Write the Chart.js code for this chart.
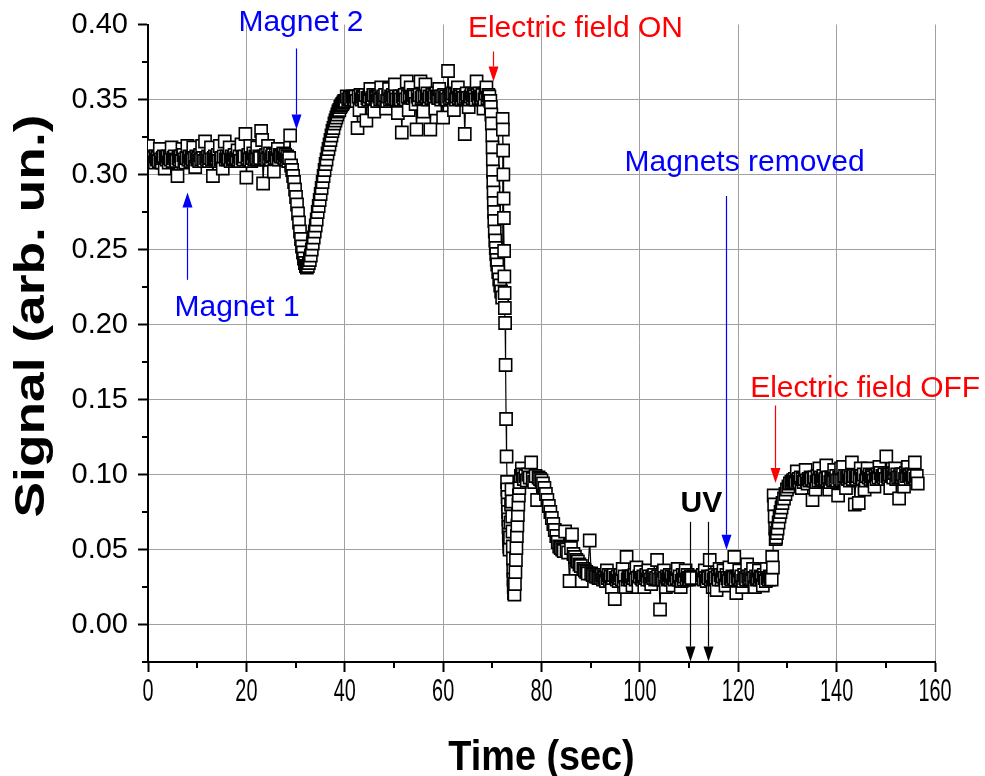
<!DOCTYPE html>
<html><head><meta charset="utf-8">
<script src="https://cdn.jsdelivr.net/npm/chart.js@4.4.0/dist/chart.umd.min.js"></script>
<style>html,body{margin:0;padding:0;background:#fff}#wrap{width:985px;height:776px}</style>
</head><body><div id="wrap"><canvas id="c" width="985" height="776"></canvas></div>
<script>
// ---- data (time in sec, signal in arb. units), in segments ----
// A: baseline before magnet 2
const timeA = [
0.0,0.2,0.4,0.6,0.8,1.0,1.2,1.4,1.6,1.8, 2.0,2.2,2.4,2.6,2.8,3.0,3.2,3.4,3.6,3.8,
4.0,4.2,4.4,4.6,4.8,5.0,5.2,5.4,5.6,5.8, 6.0,6.2,6.4,6.6,6.8,7.0,7.2,7.4,7.6,7.8,
8.0,8.2,8.4,8.6,8.8,9.0,9.2,9.4,9.6,9.8, 10.0,10.2,10.4,10.6,10.8,11.0,11.2,11.4,11.6,11.8,
12.0,12.2,12.4,12.6,12.8,13.0,13.2,13.4,13.6,13.8, 14.0,14.2,14.4,14.6,14.8,15.0,15.2,15.4,15.6,15.8,
16.0,16.2,16.4,16.6,16.8,17.0,17.2,17.4,17.6,17.8, 18.0,18.2,18.4,18.6,18.8,19.0,19.2,19.4,19.6,19.8,
20.0,20.2,20.4,20.6,20.8,21.0,21.2,21.4,21.6,21.8, 22.0,22.2,22.4,22.6,22.8,23.0,23.2,23.4,23.6,23.8,
24.0,24.2,24.4,24.6,24.8,25.0,25.2,25.4,25.6,25.8, 26.0,26.2,26.4,26.6,26.8,27.0
];
const signalA = [
0.319,0.310,0.311,0.309,0.312,0.310,0.311,0.308,0.312,0.310, 0.311,0.309,0.317,0.310,0.308,0.311,0.312,0.304,0.311,0.310,
0.312,0.308,0.311,0.310,0.318,0.309,0.311,0.312,0.310,0.309, 0.299,0.311,0.310,0.312,0.309,0.317,0.313,0.310,0.308,0.311,
0.319,0.310,0.312,0.309,0.311,0.310,0.318,0.311,0.305,0.312, 0.310,0.311,0.309,0.313,0.310,0.319,0.311,0.309,0.322,0.311,
0.310,0.312,0.309,0.311,0.318,0.310,0.299,0.311,0.312,0.310, 0.311,0.313,0.309,0.319,0.310,0.311,0.304,0.312,0.322,0.310,
0.312,0.310,0.311,0.318,0.309,0.312,0.310,0.311,0.313,0.310, 0.311,0.316,0.310,0.312,0.309,0.320,0.311,0.310,0.312,0.327,
0.298,0.311,0.313,0.310,0.319,0.309,0.311,0.314,0.310,0.312, 0.311,0.318,0.310,0.312,0.311,0.329,0.323,0.294,0.312,0.311,
0.313,0.310,0.319,0.311,0.314,0.310,0.312,0.313,0.302,0.311, 0.313,0.311,0.317,0.310,0.313,0.312
];
// B: dip after magnet 2
const timeB = [
27.3,27.5,27.7,27.9,28.1,28.3,28.5,28.7,28.9,29.1, 29.3,29.5,29.7,29.9,30.1,30.3,30.5,30.7,30.9,31.1,
31.3,31.5,31.7,31.9,32.1,32.3,32.5,32.7,32.9,33.1, 33.3,33.5,33.7,33.9,34.1,34.3,34.5,34.7,34.9,35.1,
35.3,35.5,35.7,35.9,36.1,36.3,36.5,36.7,36.9,37.1, 37.3,37.5,37.7,37.9,38.1,38.3,38.5,38.7,38.9,39.1,
39.3,39.5,39.7,39.9,40.1,40.4,40.7,41.0,41.3,41.6
];
const signalB = [
0.312,0.314,0.311,0.313,0.310,0.312,0.309,0.311,0.326,0.306, 0.303,0.299,0.295,0.290,0.285,0.280,0.274,0.268,0.262,0.257,
0.252,0.248,0.244,0.241,0.239,0.238,0.239,0.241,0.243,0.246, 0.250,0.254,0.258,0.262,0.266,0.270,0.275,0.279,0.283,0.287,
0.291,0.295,0.299,0.303,0.307,0.310,0.314,0.317,0.320,0.323, 0.326,0.329,0.331,0.334,0.336,0.338,0.340,0.342,0.343,0.345,
0.346,0.347,0.348,0.349,0.349,0.352,0.350,0.351,0.350,0.352
];
// C: high plateau
const timeC = [
41.8,42.0,42.2,42.4,42.6,42.8,43.0,43.2,43.4,43.6, 43.8,44.0,44.2,44.4,44.6,44.8,45.0,45.2,45.4,45.6,
45.8,46.0,46.2,46.4,46.6,46.8,47.0,47.2,47.4,47.6, 47.8,48.0,48.2,48.4,48.6,48.8,49.0,49.2,49.4,49.6,
49.8,50.0,50.2,50.4,50.6,50.8,51.0,51.2,51.4,51.6, 51.8,52.0,52.2,52.4,52.6,52.8,53.0,53.2,53.4,53.6,
53.8,54.0,54.2,54.4,54.6,54.8,55.0,55.2,55.4,55.6, 55.8,56.0,56.2,56.4,56.6,56.8,57.0,57.2,57.4,57.6,
57.8,58.0,58.2,58.4,58.6,58.8,59.0,59.2,59.4,59.6, 59.8,60.0,60.2,60.4,60.6,60.8,61.0,61.2,61.4,61.6,
61.8,62.0,62.2,62.4,62.6,62.8,63.0,63.2,63.4,63.6, 63.8,64.0,64.2,64.4,64.6,64.8,65.0,65.2,65.4,65.6,
65.8,66.0,66.2,66.4,66.6,66.8,67.0,67.2,67.4,67.6, 67.8,68.0,68.2,68.4,68.6,68.8,69.0,69.2,69.4
];
const signalC = [
0.351,0.350,0.352,0.349,0.331,0.352,0.343,0.353,0.350,0.352, 0.351,0.349,0.353,0.336,0.351,0.350,0.352,0.357,0.350,0.351,
0.353,0.342,0.352,0.351,0.349,0.353,0.352,0.350,0.358,0.351, 0.352,0.350,0.353,0.344,0.349,0.352,0.357,0.350,0.352,0.351,
0.353,0.351,0.360,0.352,0.350,0.341,0.351,0.352,0.350,0.328, 0.352,0.351,0.353,0.350,0.362,0.352,0.343,0.353,0.358,0.352,
0.351,0.353,0.352,0.347,0.330,0.352,0.350,0.353,0.362,0.351, 0.352,0.342,0.353,0.360,0.352,0.354,0.350,0.352,0.330,0.351,
0.353,0.351,0.352,0.344,0.354,0.352,0.351,0.357,0.352,0.350, 0.352,0.338,0.353,0.351,0.352,0.350,0.369,0.352,0.351,0.353,
0.352,0.354,0.343,0.353,0.350,0.352,0.358,0.351,0.353,0.352, 0.350,0.353,0.351,0.327,0.352,0.354,0.351,0.345,0.350,0.352,
0.354,0.351,0.353,0.352,0.350,0.362,0.353,0.351,0.354,0.352, 0.351,0.353,0.344,0.350,0.354,0.358,0.351,0.353,0.352
];
// D: electric field ON drop, oscillation and decay
const timeD = [
69.6,69.7,69.8,69.9,70.0,70.05,70.1,70.15,70.2,70.25, 70.3,70.35,70.4,70.5,70.6,70.7,70.8,70.9,71.0,71.2,
71.4,71.6,71.8,72.0,
72.1,72.15,72.2,72.25,72.3,72.35,72.4,72.45,72.5,72.55, 72.6,72.7,72.8,72.9,
73.0,73.05,73.1,73.15,73.2,73.25,73.3,73.35,73.4,73.45, 73.5,73.6,73.7,73.8,73.9,74.0,74.05,74.1,74.15,74.2,
74.25,74.3,74.35,74.4,74.5,74.6,74.7,74.8,74.9,75.0, 75.1,75.2,75.3,75.4,75.5,75.6,75.8,76.0,76.2,
76.4,76.7,77.0,77.3,77.6,77.9,78.2,78.5,78.8,79.1, 79.4,79.7,80.0,
80.3,80.6,80.9,81.2,81.5,81.8,82.1,82.4,82.7,83.0, 83.3,83.6,83.9,
84.2,84.5,84.8,85.1,85.4,85.7,86.0,86.2,86.5,
86.8,87.1,87.4,87.7,88.0,88.2,88.5,88.8,89.1,89.4, 89.8,90.1,90.4,90.7,91.0,91.3,91.6,91.9
];
const signalD = [
0.349,0.345,0.340,0.334,0.326,0.318,0.310,0.302,0.295,0.288, 0.281,0.275,0.269,0.262,0.256,0.251,0.247,0.243,0.240,0.235,
0.230,0.226,0.222,0.218,
0.337,0.330,0.316,0.300,0.284,0.271,0.249,0.232,0.221,0.211, 0.201,0.173,0.137,0.112,
0.095,0.090,0.085,0.080,0.075,0.070,0.065,0.060,0.056,0.052, 0.050,0.058,0.068,0.080,0.090,0.082,0.072,0.062,0.052,0.044,
0.036,0.030,0.025,0.021,0.020,0.027,0.035,0.043,0.051,0.059, 0.066,0.073,0.080,0.086,0.091,0.095,0.099,0.104,0.100,
0.097,0.099,0.096,0.100,0.098,0.108,0.097,0.095,0.099,0.083, 0.098,0.097,0.096,
0.094,0.091,0.087,0.083,0.079,0.075,0.071,0.067,0.063,0.059, 0.055,0.052,0.051,
0.050,0.049,0.062,0.050,0.048,0.029,0.051,0.060,0.047,
0.045,0.043,0.042,0.040,0.039,0.029,0.037,0.036,0.035,0.034, 0.056,0.034,0.033,0.033,0.032,0.032,0.031,0.031
];
// E: low plateau before the UV pulse
const timeE = [
92.1,92.3,92.5,92.7,92.9,93.1,93.3,93.5,93.7,93.9, 94.1,94.3,94.5,94.7,94.9,95.1,95.3,95.5,95.7,95.9,
96.1,96.3,96.5,96.7,96.9,97.1,97.3,97.5,97.7,97.9, 98.1,98.3,98.5,98.7,98.9,99.1,99.3,99.5,99.7,99.9,
100.1,100.3,100.5,100.7,100.9,101.1,101.3,101.5,101.7,101.9, 102.1,102.3,102.5,102.7,102.9,103.1,103.3,103.5,103.7,103.9,
104.1,104.3,104.5,104.7,104.9,105.1,105.3,105.5,105.7,105.9, 106.1,106.3,106.5,106.7,106.9,107.1,107.3,107.5,107.7,107.9,
108.1,108.3,108.5,108.7,108.9,109.1,109.3,109.5,109.7,109.9, 110.1,110.3,110.5
];
const signalE = [
0.031,0.033,0.030,0.032,0.031,0.029,0.036,0.031,0.033,0.030, 0.032,0.025,0.031,0.033,0.017,0.031,0.030,0.032,0.029,0.031,
0.033,0.030,0.037,0.029,0.032,0.025,0.045,0.030,0.032,0.031, 0.030,0.032,0.026,0.031,0.033,0.030,0.038,0.031,0.025,0.032,
0.035,0.031,0.030,0.032,0.025,0.031,0.033,0.030,0.036,0.032, 0.030,0.027,0.032,0.031,0.033,0.030,0.031,0.043,0.032,0.030,
0.010,0.031,0.032,0.030,0.036,0.031,0.025,0.032,0.030,0.031, 0.033,0.030,0.032,0.026,0.031,0.030,0.033,0.031,0.037,0.030,
0.032,0.025,0.029,0.033,0.030,0.032,0.036,0.030,0.033,0.031, 0.030,0.032,0.031
];
const gapTime = 111.5;   // no data during the UV pulse
// F: low plateau after the UV pulse
const timeF = [
112.6,112.8,113.0,113.2,113.4,113.6,113.8,114.0,114.2,114.4, 114.6,114.8,115.0,115.2,115.4,115.6,115.8,116.0,116.2,116.4,
116.6,116.8,117.0,117.2,117.4,117.6,117.8,118.0,118.2,118.4, 118.6,118.8,119.0,119.2,119.4,119.6,119.8,120.0,120.2,120.4,
120.6,120.8,121.0,121.2,121.4,121.6,121.8,122.0,122.2,122.4, 122.6,122.8,123.0,123.2,123.4,123.6,123.8,124.0,124.2,124.4,
124.6,124.8,125.0,125.2,125.4,125.6,125.8,126.0,126.2,126.4, 126.6,126.8
];
const signalF = [
0.031,0.033,0.030,0.036,0.031,0.029,0.032,0.031,0.043,0.030, 0.032,0.025,0.030,0.033,0.031,0.023,0.032,0.030,0.037,0.033,
0.030,0.032,0.036,0.031,0.026,0.033,0.031,0.029,0.038,0.031, 0.030,0.032,0.031,0.045,0.030,0.021,0.032,0.031,0.036,0.030,
0.032,0.025,0.029,0.033,0.031,0.030,0.040,0.032,0.030,0.031, 0.033,0.030,0.037,0.031,0.025,0.032,0.030,0.031,0.036,0.030,
0.032,0.031,0.026,0.033,0.031,0.029,0.037,0.031,0.030,0.032, 0.031,0.030
];
// G: electric field OFF rise
const timeG = [
126.9,127.05,127.2,127.3,127.4,127.5,127.6,127.7,127.85,128.0, 128.2,128.4,128.6,128.8,129.0,129.3,129.6,129.9,130.2,130.5,
130.8,131.1
];
const signalG = [
0.045,0.038,0.086,0.080,0.072,0.064,0.057,0.058,0.061,0.064, 0.068,0.072,0.075,0.078,0.081,0.084,0.087,0.090,0.092,0.094,
0.095,0.096
];
// H: final plateau
const timeH = [
131.3,131.5,131.7,131.9,132.1,132.3,132.5,132.7,132.9,133.1, 133.3,133.5,133.7,133.9,134.1,134.3,134.5,134.7,134.9,135.1,
135.3,135.5,135.7,135.9,136.1,136.3,136.5,136.7,136.9,137.1, 137.3,137.5,137.7,137.9,138.1,138.3,138.5,138.7,138.9,139.1,
139.3,139.5,139.7,139.9,140.1,140.3,140.5,140.7,140.9,141.1, 141.3,141.5,141.7,141.9,142.1,142.3,142.5,142.7,142.9,143.1,
143.3,143.5,143.7,143.9,144.1,144.3,144.5,144.7,144.9,145.1, 145.3,145.5,145.7,145.9,146.1,146.3,146.5,146.7,146.9,147.1,
147.3,147.5,147.7,147.9,148.1,148.3,148.5,148.7,148.9,149.1, 149.3,149.5,149.7,149.9,150.1,150.3,150.5,150.7,150.9,151.1,
151.3,151.5,151.7,151.9,152.1,152.3,152.5,152.7,152.9,153.1, 153.3,153.5,153.7,153.9,154.1,154.3,154.5,154.7,154.9,155.1,
155.3,155.5,155.7,155.9,156.1,156.3,156.5
];
const signalH = [
0.096,0.097,0.095,0.102,0.096,0.097,0.095,0.098,0.091,0.097, 0.095,0.097,0.103,0.096,0.094,0.097,0.096,0.098,0.097,0.083,
0.096,0.098,0.090,0.095,0.099,0.096,0.104,0.098,0.096,0.097, 0.099,0.096,0.097,0.106,0.096,0.098,0.090,0.095,0.098,0.097,
0.096,0.103,0.097,0.099,0.096,0.086,0.098,0.097,0.104,0.096, 0.105,0.097,0.099,0.091,0.098,0.097,0.099,0.096,0.098,0.108,
0.097,0.099,0.080,0.098,0.097,0.099,0.081,0.098,0.104,0.099, 0.097,0.100,0.090,0.096,0.099,0.104,0.098,0.100,0.097,0.099,
0.098,0.096,0.092,0.099,0.097,0.100,0.098,0.105,0.101,0.097, 0.099,0.098,0.100,0.097,0.112,0.099,0.098,0.100,0.091,0.099,
0.100,0.098,0.101,0.104,0.097,0.100,0.098,0.084,0.099,0.100, 0.098,0.100,0.092,0.097,0.101,0.099,0.105,0.100,0.099,0.097,
0.100,0.098,0.099,0.108,0.097,0.099,0.094
];

// ---- axis ----
const xMin = 0, xMax = 160, xStep = 10, xLabelEvery = 20;
const yMin = -0.025, yMax = 0.40, yStep = 0.025;
const xTitle = 'Time (sec)';
const yTitle = 'Signal (arb. un.)';

// ---- annotations (data coordinates) ----
const noteText  = ['Magnet 1', 'Magnet 2', 'Electric field ON', 'Magnets removed', 'Electric field OFF', 'UV'];
const noteX     = [18.1, 31.1, 86.9, 121.3, 145.8, 112.5];
const noteY     = [0.2055, 0.3955, 0.3915, 0.3023, 0.152, 0.0750];
const noteColor = ['#0000ff', '#0000ff', '#ff0000', '#0000ff', '#ff0000', '#000000'];
const noteBold  = [false, false, false, false, false, true];

const arrowX     = [8.0, 30.1, 70.1, 117.5, 127.5, 110.2, 113.8];
const arrowFrom  = [0.2298, 0.384, 0.382, 0.2857, 0.146, 0.0684, 0.0684];
const arrowTo    = [0.288, 0.330, 0.362, 0.0498, 0.0944, -0.0246, -0.0246];
const arrowColor = ['#0000ff', '#0000ff', '#ff0000', '#0000ff', '#ff0000', '#000000', '#000000'];

// ---- build the point list ----
const points = [];
const addSeg = (ts, vs) => ts.forEach((t, i) => points.push({x: t, y: vs[i]}));
addSeg(timeA, signalA); addSeg(timeB, signalB); addSeg(timeC, signalC); addSeg(timeD, signalD);
addSeg(timeE, signalE);
points.push({x: gapTime, y: null});
addSeg(timeF, signalF); addSeg(timeG, signalG); addSeg(timeH, signalH);

const isMajorY = v => Math.round(v * 1000) % 50 === 0;
const isMajorX = v => Math.round(v) % xLabelEvery === 0;
const xLabelStretch = 0.64;

// draw the x tick labels (from Chart.js) horizontally condensed, like the narrow font of the original
const condenseX = {
  id: 'condenseX',
  beforeDraw(chart) {
    const s = chart.scales.x;
    if (s._condensed) return;
    s._condensed = true;
    const orig = s.drawLabels;
    s.drawLabels = function(area) {
      const ctx = this.ctx;
      const ft = ctx.fillText;
      ctx.fillText = function(t, x, y) {
        ctx.save(); ctx.translate(x, y); ctx.scale(xLabelStretch, 1); ft.call(ctx, t, 0, 0); ctx.restore();
      };
      try { orig.call(this, area); } finally { delete ctx.fillText; }
    };
  }
};

const minorTicks = {
  id: 'minorTicks',
  afterDraw(chart) {
    const ctx = chart.ctx, xs = chart.scales.x, ys = chart.scales.y;
    ctx.save();
    ctx.strokeStyle = '#000';
    ctx.lineWidth = 2;
    xs.ticks.forEach(t => {
      if (!isMajorX(t.value)) {
        const px = Math.round(xs.getPixelForValue(t.value));
        ctx.beginPath(); ctx.moveTo(px, ys.bottom); ctx.lineTo(px, ys.bottom + 6); ctx.stroke();
      }
    });
    ys.ticks.forEach(t => {
      if (!isMajorY(t.value)) {
        const py = Math.round(ys.getPixelForValue(t.value));
        ctx.beginPath(); ctx.moveTo(xs.left, py); ctx.lineTo(xs.left - 6, py); ctx.stroke();
      }
    });
    ctx.restore();
  }
};

const notes = {
  id: 'notes',
  afterDraw(chart) {
    const ctx = chart.ctx, xs = chart.scales.x, ys = chart.scales.y;
    ctx.save();
    arrowX.forEach((ax, i) => {
      const px = Math.round(xs.getPixelForValue(ax)) + 0.5;
      const y1 = ys.getPixelForValue(arrowFrom[i]);
      const y2 = ys.getPixelForValue(arrowTo[i]);
      const dir = y2 > y1 ? 1 : -1;
      const headL = 15, headW = 5;
      ctx.strokeStyle = arrowColor[i];
      ctx.fillStyle = arrowColor[i];
      ctx.lineWidth = 1.2;
      ctx.beginPath(); ctx.moveTo(px, y1); ctx.lineTo(px, y2 - dir * headL); ctx.stroke();
      ctx.beginPath();
      ctx.moveTo(px, y2);
      ctx.lineTo(px - headW, y2 - dir * headL);
      ctx.lineTo(px + headW, y2 - dir * headL);
      ctx.closePath(); ctx.fill();
    });
    noteText.forEach((txt, i) => {
      ctx.font = (noteBold[i] ? 'bold ' : '') + '30px "Liberation Sans", Arial, sans-serif';
      ctx.fillStyle = noteColor[i];
      ctx.textAlign = 'center';
      ctx.textBaseline = 'alphabetic';
      ctx.fillText(txt, xs.getPixelForValue(noteX[i]), ys.getPixelForValue(noteY[i]));
    });
    // axis titles
    ctx.fillStyle = '#000';
    ctx.font = 'bold 42px "Liberation Sans", Arial, sans-serif';
    ctx.textAlign = 'center';
    ctx.textBaseline = 'alphabetic';
    ctx.save();
    ctx.translate((xs.left + xs.right) / 2, 770);
    ctx.scale(0.9, 1);
    ctx.fillText(xTitle, 0, 0);
    ctx.restore();
    ctx.save();
    ctx.translate(44, 316);
    ctx.rotate(-Math.PI / 2);
    ctx.scale(1.27, 1);
    ctx.fillText(yTitle, 0, 0);
    ctx.restore();
    ctx.restore();
  }
};

new Chart(document.getElementById('c'), {
  type: 'scatter',
  data: {
    datasets: [{
      data: points,
      showLine: true,
      spanGaps: false,
      borderColor: '#000',
      borderWidth: 1.2,
      pointStyle: 'rect',
      pointRadius: 8.6,
      pointHoverRadius: 8.6,
      pointBackgroundColor: '#fff',
      pointBorderColor: '#000',
      pointBorderWidth: 1.6,
      tension: 0
    }]
  },
  options: {
    responsive: false,
    animation: false,
    devicePixelRatio: 1,
    layout: {padding: {left: 0, top: 23, right: 50, bottom: 0}},
    plugins: {legend: {display: false}, tooltip: {enabled: false}},
    scales: {
      x: {
        type: 'linear', min: xMin, max: xMax,
        afterFit: s => { s.height = 114; },
        border: {color: '#000', width: 2},
        grid: {
          color: c => (c.tick && isMajorX(c.tick.value) && c.tick.value > xMin) ? '#a0a0a0' : 'rgba(0,0,0,0)',
          lineWidth: 1,
          tickColor: c => (c.tick && isMajorX(c.tick.value)) ? '#000' : 'rgba(0,0,0,0)',
          tickWidth: 2, tickLength: 10, drawTicks: true
        },
        ticks: {
          stepSize: xStep, autoSkip: false, maxRotation: 0, color: '#000', padding: 5,
          font: {family: '"Liberation Sans", Arial, sans-serif', size: 31, lineHeight: 1},
          callback: v => isMajorX(v) ? String(v) : ''
        },
        title: {display: false, text: xTitle}
      },
      y: {
        type: 'linear', min: yMin, max: yMax,
        afterFit: s => { s.width = 148; },
        border: {color: '#000', width: 2},
        grid: {
          color: c => (c.tick && isMajorY(c.tick.value) && c.tick.value < 0.39 && c.tick.value > yMin) ? '#a0a0a0' : 'rgba(0,0,0,0)',
          lineWidth: 1,
          tickColor: c => (c.tick && isMajorY(c.tick.value)) ? '#000' : 'rgba(0,0,0,0)',
          tickWidth: 2, tickLength: 10, drawTicks: true
        },
        ticks: {
          stepSize: yStep, autoSkip: false, color: '#000', padding: 10,
          font: {family: '"Liberation Sans", Arial, sans-serif', size: 29, lineHeight: 1},
          callback: v => isMajorY(v) ? v.toFixed(2) : ''
        },
        title: {display: false, text: yTitle}
      }
    }
  },
  plugins: [condenseX, minorTicks, notes]
});
</script>
</body></html>
